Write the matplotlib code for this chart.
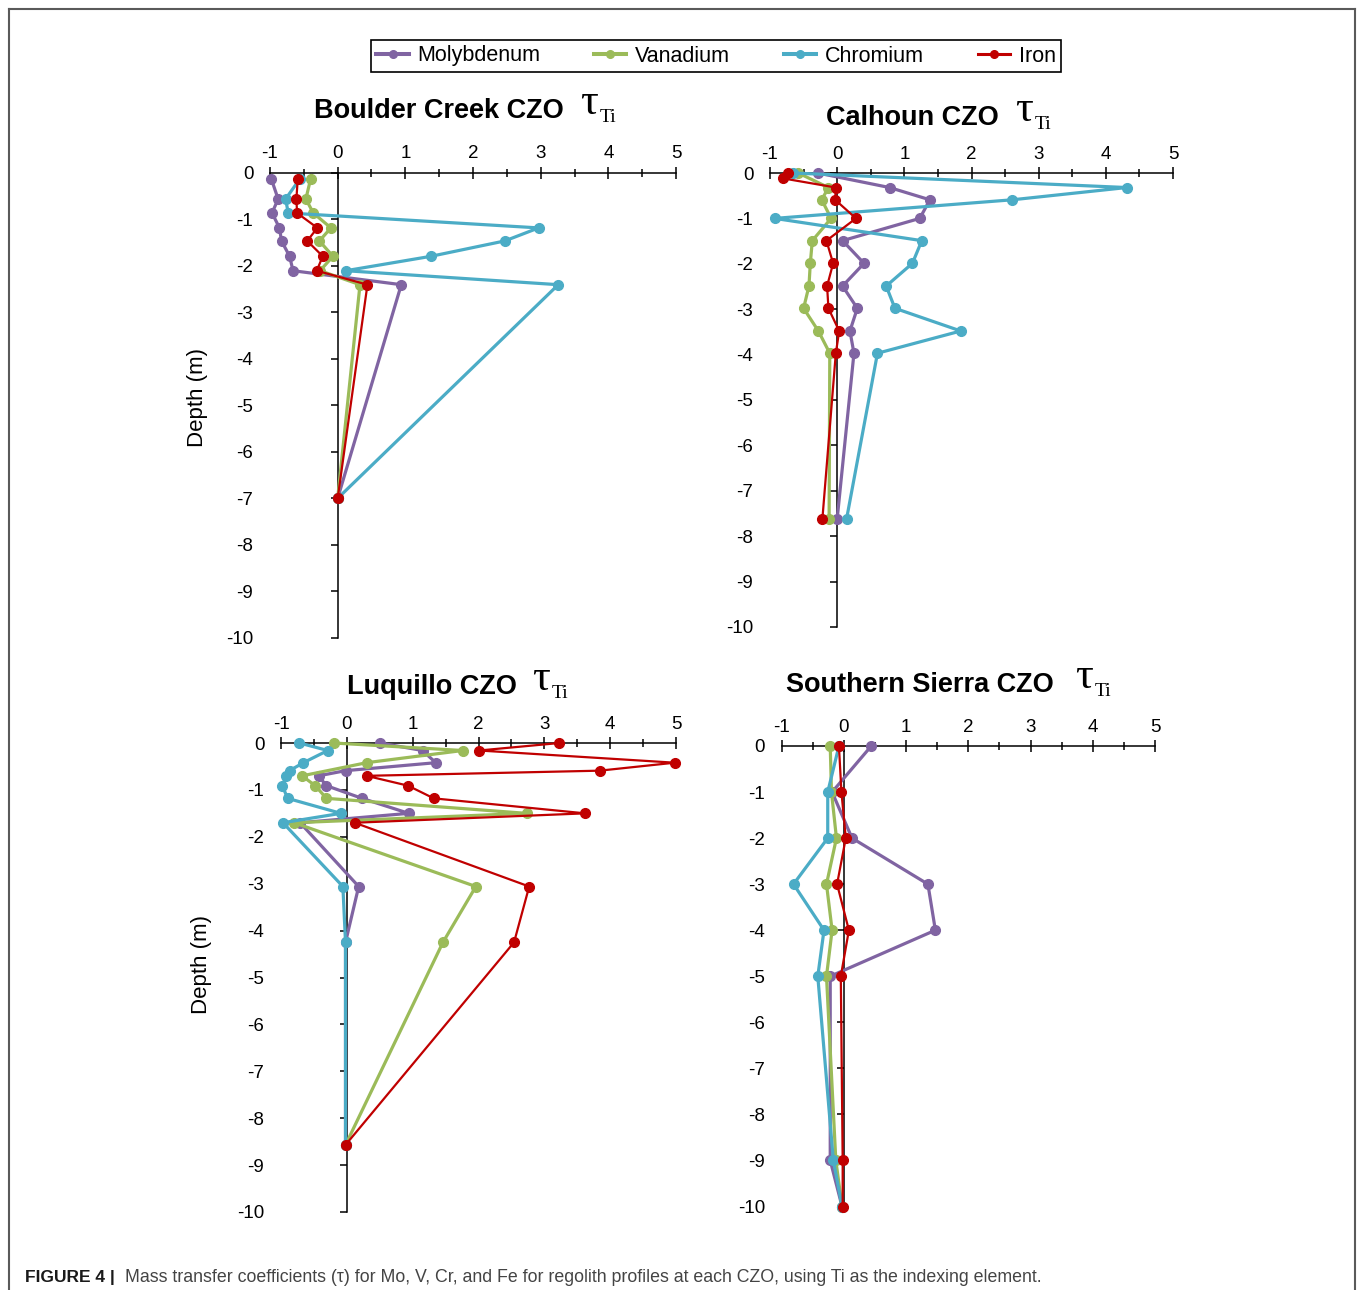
import matplotlib
matplotlib.use("Agg")
import matplotlib.pyplot as plt
from matplotlib.lines import Line2D
from matplotlib.ticker import MultipleLocator

plt.rcParams["font.family"] = ["Liberation Sans", "DejaVu Sans"]
plt.rcParams["axes.unicode_minus"] = False

W, H = 1358, 1290

ELEMENTS = ["Molybdenum", "Vanadium", "Chromium", "Iron"]
COLORS = {"Molybdenum": "#8064A2", "Vanadium": "#9BBB59",
          "Chromium": "#4BACC6", "Iron": "#C00000"}
WIDTHS = {"Molybdenum": 2.3, "Vanadium": 2.3, "Chromium": 2.3, "Iron": 1.6}

# ---- Boulder Creek CZO: depth (m) and tau_Ti ----
bc_depth = [-0.14, -0.57, -0.87, -1.19, -1.47, -1.80, -2.11, -2.41, -7.0]
bc_mo = [-0.98, -0.88, -0.97, -0.86, -0.83, -0.71, -0.66, 0.94, 0.0]
bc_v = [-0.40, -0.47, -0.36, -0.10, -0.27, -0.07, -0.26, 0.33, 0.0]
bc_cr = [-0.56, -0.77, -0.73, 2.97, 2.47, 1.38, 0.12, 3.26, 0.0]
bc_fe = [-0.59, -0.61, -0.60, -0.30, -0.45, -0.22, -0.31, 0.44, 0.0]

# ---- Calhoun CZO ----
ca_depth = [0.0, -0.32, -0.59, -1.0, -1.49, -1.99, -2.49, -2.98, -3.48, -3.97, -7.62]
ca_mo = [-0.29, 0.78, 1.38, 1.23, 0.08, 0.40, 0.08, 0.30, 0.19, 0.25, 0.0]
ca_v = [-0.58, -0.13, -0.23, -0.09, -0.37, -0.40, -0.42, -0.50, -0.28, -0.11, -0.12]
ca_cr = [-0.66, 4.31, 2.61, -0.93, 1.26, 1.12, 0.73, 0.86, 1.84, 0.60, 0.14]
ca_fe_depth = [0.0, -0.12, -0.32, -0.59, -1.0, -1.49, -1.99, -2.49, -2.98, -3.48, -3.97, -7.62]
ca_fe = [-0.73, -0.80, -0.02, -0.03, 0.28, -0.16, -0.06, -0.15, -0.13, 0.03, -0.02, -0.22]

# ---- Luquillo CZO ----
lq_depth = [0.0, -0.16, -0.42, -0.59, -0.70, -0.91, -1.18, -1.50, -1.70, -3.06, -4.25, -8.57]
lq_mo = [0.50, 1.15, 1.35, -0.02, -0.43, -0.31, 0.23, 0.94, -0.71, 0.18, -0.02, -0.02]
lq_v_depth = [0.0, -0.16, -0.42, -0.70, -0.91, -1.18, -1.50, -1.70, -3.06, -4.25, -8.57]
lq_v = [-0.20, 1.76, 0.30, -0.68, -0.48, -0.31, 2.73, -0.80, 1.96, 1.46, -0.02]
lq_cr = [-0.72, -0.29, -0.66, -0.87, -0.92, -0.98, -0.90, -0.09, -0.97, -0.06, -0.02, -0.02]
lq_fe = [3.23, 2.01, 4.98, 3.84, 0.30, 0.93, 1.32, 3.62, 0.12, 2.77, 2.54, -0.02]

# ---- Southern Sierra CZO ----
ss_depth = [0.0, -1.0, -2.0, -3.0, -4.0, -5.0, -9.0, -10.0]
ss_mo = [0.44, -0.19, 0.13, 1.35, 1.47, -0.22, -0.22, -0.03]
ss_v = [-0.22, -0.20, -0.12, -0.28, -0.19, -0.28, -0.13, -0.03]
ss_cr = [-0.08, -0.26, -0.26, -0.81, -0.32, -0.42, -0.17, -0.03]
ss_fe = [-0.08, -0.04, 0.03, -0.11, 0.08, -0.05, -0.02, -0.02]

SITES = [
    {"title": "Boulder Creek CZO",
     "series": {"Molybdenum": (bc_depth, bc_mo), "Vanadium": (bc_depth, bc_v),
                "Chromium": (bc_depth, bc_cr), "Iron": (bc_depth, bc_fe)},
     "box": (270, 172.5, 676, 638), "title_px": (314, 118, 580, 600),
     "ylabel_px": (197, 397)},
    {"title": "Calhoun CZO",
     "series": {"Molybdenum": (ca_depth, ca_mo), "Vanadium": (ca_depth, ca_v),
                "Chromium": (ca_depth, ca_cr), "Iron": (ca_fe_depth, ca_fe)},
     "box": (770, 173, 1173, 627), "title_px": (826, 125, 1015, 1035),
     "ylabel_px": None},
    {"title": "Luquillo CZO",
     "series": {"Molybdenum": (lq_depth, lq_mo), "Vanadium": (lq_v_depth, lq_v),
                "Chromium": (lq_depth, lq_cr), "Iron": (lq_depth, lq_fe)},
     "box": (281, 743, 676, 1212), "title_px": (347, 694, 532, 552),
     "ylabel_px": (201, 964)},
    {"title": "Southern Sierra CZO",
     "series": {"Molybdenum": (ss_depth, ss_mo), "Vanadium": (ss_depth, ss_v),
                "Chromium": (ss_depth, ss_cr), "Iron": (ss_depth, ss_fe)},
     "box": (781.7, 746, 1155, 1206.5), "title_px": (786, 692, 1075, 1095),
     "ylabel_px": None},
]

fig = plt.figure(figsize=(W / 100, H / 100), dpi=100)


def fx(px):
    return px / W


def fy(py):
    return 1 - py / H


def draw_site(site):
    x0, y0, x1, y1 = site["box"]
    ax = fig.add_axes([fx(x0), fy(y1), (x1 - x0) / W, (y1 - y0) / H])
    ax.patch.set_visible(False)
    ax.set_xlim(-1, 5)
    ax.set_ylim(-10, 0)
    for name in ELEMENTS:
        depth, tau = site["series"][name]
        ax.plot(tau, depth, color=COLORS[name], lw=WIDTHS[name],
                marker="o", ms=7, mec=COLORS[name], clip_on=False,
                zorder=3, label=name)

    for side in ("right", "bottom"):
        ax.spines[side].set_visible(False)
    ax.spines["left"].set_position(("data", 0))
    ax.spines["left"].set_linewidth(1.1)
    ax.spines["top"].set_linewidth(1.1)

    ax.xaxis.set_ticks_position("top")
    ax.xaxis.set_major_locator(MultipleLocator(1))
    ax.xaxis.set_minor_locator(MultipleLocator(0.5))
    ax.tick_params(axis="x", which="major", direction="inout", length=9,
                   width=1.1, labelsize=13.5, pad=3)
    ax.tick_params(axis="x", which="minor", direction="inout", length=6,
                   width=1.1)

    ax.yaxis.set_major_locator(MultipleLocator(1))
    ax.tick_params(axis="y", direction="out", length=5, width=1.1,
                   labelleft=False)

    # depth labels sit at the left edge of the panel, away from the zero line
    sec = ax.secondary_yaxis("left")
    sec.spines["left"].set_visible(False)
    sec.yaxis.set_major_locator(MultipleLocator(1))
    sec.tick_params(axis="y", length=0, labelsize=13.5, pad=12)

    tx, tb, taux, tix = site["title_px"]
    fig.text(fx(tx), fy(tb), site["title"], fontsize=19.5, fontweight="bold",
             va="baseline", ha="left")
    fig.text(fx(taux), fy(tb - 4), "\u03c4", fontsize=32,
             family=["Liberation Serif", "DejaVu Serif"], va="baseline", ha="left")
    fig.text(fx(tix), fy(tb + 4), "Ti", fontsize=14,
             family=["Liberation Serif", "DejaVu Serif"], va="baseline", ha="left")

    if site["ylabel_px"] is not None:
        lx, ly = site["ylabel_px"]
        fig.text(fx(lx), fy(ly), "Depth (m)", fontsize=16, rotation=90,
                 ha="center", va="center")


for site in SITES:
    draw_site(site)

leg_handles = [Line2D([], [], color=COLORS[n], lw=WIDTHS[n] + 0.6, marker="o",
                      ms=5.5) for n in ELEMENTS]
leg = fig.legend(leg_handles, ELEMENTS, loc="center",
                 bbox_to_anchor=(fx(716), fy(56)), ncol=4, fontsize=15.5,
                 frameon=True, fancybox=False, edgecolor="black",
                 framealpha=1, handlelength=1.5, handletextpad=0.4,
                 columnspacing=2.5, borderpad=0.25)
leg.get_frame().set_linewidth(1.2)

# caption
fig.text(fx(25), fy(1282), "FIGURE 4 |", fontsize=12.5, fontweight="bold",
         color="#1a1a1a", va="baseline", ha="left")
fig.text(fx(125), fy(1282),
         "Mass transfer coefficients (\u03c4) for Mo, V, Cr, and Fe for regolith "
         "profiles at each CZO, using Ti as the indexing element.",
         fontsize=12.8, color="#444444", va="baseline", ha="left")

# open frame around the figure panel
frame_kw = dict(color="#5a5a5a", lw=1.5, transform=fig.transFigure)
fig.add_artist(Line2D([fx(8.5), fx(8.5)], [fy(8.5), 0], **frame_kw))
fig.add_artist(Line2D([fx(8.5), fx(1355)], [fy(8.5), fy(8.5)], **frame_kw))
fig.add_artist(Line2D([fx(1355), fx(1355)], [fy(8.5), 0], **frame_kw))

fig.savefig("out.png", dpi=100, facecolor="white")
